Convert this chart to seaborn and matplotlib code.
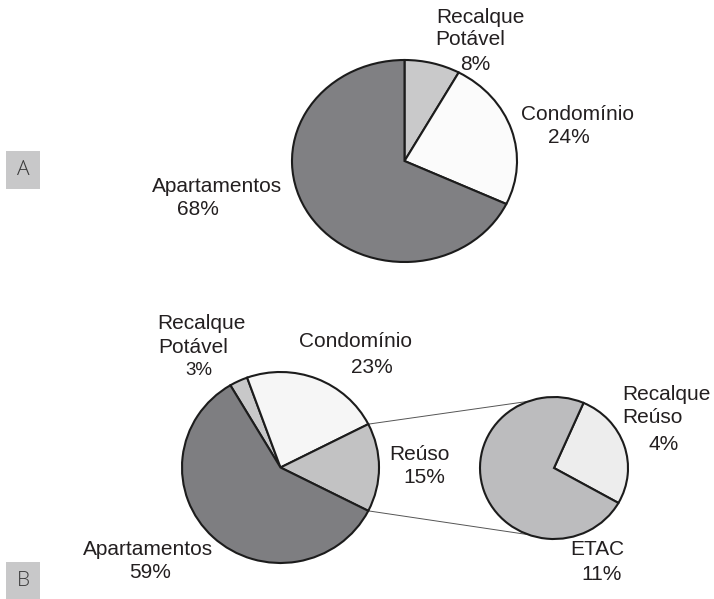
import numpy as np
import matplotlib
matplotlib.use("Agg")
import matplotlib.pyplot as plt
from matplotlib.patches import ConnectionPatch, Rectangle
import seaborn as sns

# ---------------- data ----------------
labels_a = ["Recalque Potável", "Condomínio", "Apartamentos"]
values_a = [8, 24, 68]
colors_a = ["#c9c9ca", "#fbfbfb", "#808083"]

labels_b = ["Recalque Potável", "Condomínio", "Reúso", "Apartamentos"]
values_b = [3, 23, 15, 59]
colors_b = ["#c8c8c9", "#f6f6f6", "#c2c2c3", "#7e7e81"]

labels_sub = ["Recalque Reúso", "ETAC"]
values_sub = [4, 11]
colors_sub = ["#ededed", "#bcbcbe"]

# ---------------- style ----------------
sns.set_theme(style="white")
plt.rcParams['font.family'] = ['Liberation Sans', 'DejaVu Sans']
TXT = "#231f20"
FS = 15

W, H = 714, 599
fig = plt.figure(figsize=(W / 100, H / 100), dpi=100)
fig.patch.set_facecolor("white")

PAD = 1.04


def add_ax(left, top, right, bottom):
    cx, cy = (left + right) / 2, (top + bottom) / 2
    hw, hh = (right - left) / 2 * PAD, (bottom - top) / 2 * PAD
    return fig.add_axes([(cx - hw) / W, 1 - (cy + hh) / H, 2 * hw / W, 2 * hh / H])


def draw_pie(ax, values, colors, start):
    wedges, _ = ax.pie(values, colors=colors, startangle=start, counterclock=False,
                       wedgeprops=dict(edgecolor="#1c1c1c", linewidth=1.5), radius=1)
    for w in wedges:
        w.set_clip_on(False)
    ax.set_aspect("auto")
    ax.set_xlim(-PAD, PAD)
    ax.set_ylim(-PAD, PAD)
    ax.axis("off")
    return wedges


def label(x, y, s, fs=FS, **kw):
    fig.text(x / W, 1 - y / H, s, ha="center", va="baseline", fontsize=fs, color=TXT, **kw)


# ---------------- Pie A ----------------
axA = add_ax(292, 60, 517, 262)
draw_pie(axA, values_a, colors_a, 90)

label(480, 23, "Recalque")
label(470.5, 45, "Potável")
label(475, 70, f"{values_a[0]}%")
label(577.5, 120, "Condomínio")
label(568.5, 143, f"{values_a[1]}%")
label(217, 192, "Apartamentos")
label(198, 215, f"{values_a[2]}%")

# ---------------- Pie B (main) ----------------
axB = add_ax(182, 372, 379, 563)
total_b = sum(values_b)
half_reuso = values_b[2] / total_b * 180
start_b = half_reuso + (values_b[0] + values_b[1]) / total_b * 360
draw_pie(axB, values_b, colors_b, start_b)

label(201.5, 329, "Recalque")
label(193, 353, "Potável")
label(198.5, 375, f"{values_b[0]}%", fs=13.5)
label(355, 347, "Condomínio")
label(372, 373, f"{values_b[1]}%")
label(419, 460, "Reúso")
label(424, 483, f"{values_b[2]}%")
label(148.5, 555, "Apartamentos")
label(150, 578, f"{values_b[3]}%")

# ---------------- Pie B (secondary) ----------------
axS = add_ax(480, 397, 628, 539)
total_s = sum(values_sub)
start_s = 18.5 + values_sub[0] / total_s * 180
draw_pie(axS, values_sub, colors_sub, start_s)

label(666.5, 400, "Recalque")
label(652, 423, "Reúso")
label(664, 450, f"{values_sub[0]}%")
label(597.5, 555, "ETAC")
label(602, 580, f"{values_sub[1]}%")

# connector lines
for a_main, a_sub in [(half_reuso, 110), (-half_reuso, 250)]:
    p1 = (np.cos(np.radians(a_main)), np.sin(np.radians(a_main)))
    p2 = (np.cos(np.radians(a_sub)), np.sin(np.radians(a_sub)))
    con = ConnectionPatch(xyA=p1, coordsA=axB.transData, xyB=p2, coordsB=axS.transData,
                          color="#555555", linewidth=0.7, zorder=0)
    fig.add_artist(con)

# ---------------- panel tags ----------------
for tag, top, bottom, ty in [("A", 151, 189, 170), ("B", 562, 599, 581)]:
    fig.add_artist(Rectangle((6 / W, 1 - bottom / H), 34 / W, (bottom - top) / H,
                             transform=fig.transFigure, facecolor="#c8c8c9", edgecolor="none"))
    fig.text(23 / W, 1 - ty / H, tag, ha="center", va="center", fontsize=15,
             color="#3a3a3a", family=["Open Sans", "DejaVu Sans"], fontweight="light")

fig.savefig("out.png", dpi=100, facecolor="white")
